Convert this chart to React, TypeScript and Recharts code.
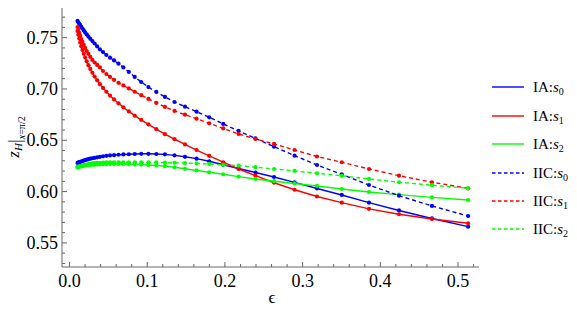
import React from "react";
import { LineChart, Line, XAxis, YAxis } from "recharts";

const EPS = [0.0103, 0.0113, 0.0125, 0.0137, 0.0151, 0.0166, 0.0183, 0.0201, 0.0221, 0.0243, 0.0267, 0.0294, 0.0323, 0.0356, 0.0391, 0.0431, 0.0474, 0.0521, 0.0573, 0.063, 0.0693, 0.0763, 0.0839, 0.0923, 0.1015, 0.1117, 0.1228, 0.1351, 0.1486, 0.1635, 0.1798, 0.1978, 0.2176, 0.2393, 0.2632, 0.2896, 0.3185, 0.3504, 0.3854, 0.424, 0.4664, 0.513];

const IA_S0 = [0.6279, 0.6283, 0.6287, 0.6289, 0.6293, 0.6298, 0.6302, 0.6307, 0.6311, 0.6316, 0.6321, 0.6325, 0.6329, 0.6334, 0.6339, 0.6344, 0.6348, 0.6352, 0.6355, 0.6359, 0.6362, 0.6364, 0.6366, 0.6368, 0.6368, 0.6366, 0.6363, 0.6353, 0.6339, 0.6321, 0.6295, 0.6261, 0.6225, 0.6186, 0.6142, 0.6089, 0.603, 0.5967, 0.5892, 0.5816, 0.5738, 0.5658];
const IA_S1 = [0.7565, 0.7528, 0.7491, 0.7454, 0.7417, 0.738, 0.7343, 0.7306, 0.7269, 0.7232, 0.7195, 0.7158, 0.7121, 0.7084, 0.7047, 0.701, 0.6973, 0.6936, 0.6898, 0.686, 0.6821, 0.6781, 0.674, 0.6698, 0.6655, 0.6608, 0.6559, 0.6511, 0.646, 0.6405, 0.6347, 0.6286, 0.622, 0.6155, 0.6086, 0.6018, 0.5952, 0.5892, 0.5832, 0.5779, 0.5733, 0.5691];
const IA_S2 = [0.624, 0.6242, 0.6244, 0.6247, 0.625, 0.6251, 0.6253, 0.6255, 0.6257, 0.6259, 0.6261, 0.6262, 0.6263, 0.6265, 0.6266, 0.6267, 0.6268, 0.6269, 0.6269, 0.6269, 0.6269, 0.6268, 0.6266, 0.6263, 0.6259, 0.6254, 0.6248, 0.6237, 0.6222, 0.6206, 0.6188, 0.6169, 0.6146, 0.6123, 0.6101, 0.6079, 0.6055, 0.6025, 0.5996, 0.597, 0.5944, 0.5918];
const IIC_S0 = [0.7663, 0.7649, 0.7635, 0.7622, 0.7605, 0.7589, 0.757, 0.7551, 0.7531, 0.7511, 0.7489, 0.7467, 0.7443, 0.7415, 0.7385, 0.7359, 0.7331, 0.7305, 0.7278, 0.7246, 0.721, 0.7166, 0.7117, 0.7068, 0.7018, 0.6971, 0.6922, 0.6873, 0.6827, 0.6779, 0.6724, 0.6659, 0.6591, 0.6518, 0.6438, 0.635, 0.6259, 0.6167, 0.6064, 0.596, 0.586, 0.5762];
const IIC_S1 = [0.7604, 0.7575, 0.7546, 0.7517, 0.7487, 0.7458, 0.7429, 0.74, 0.737, 0.7341, 0.7312, 0.7283, 0.7258, 0.7234, 0.721, 0.7175, 0.7146, 0.7117, 0.7088, 0.706, 0.7034, 0.7005, 0.6973, 0.6939, 0.6903, 0.6864, 0.6825, 0.6786, 0.6749, 0.671, 0.6666, 0.6615, 0.6561, 0.6513, 0.6464, 0.6405, 0.6342, 0.6286, 0.622, 0.6155, 0.6091, 0.6032];
const IIC_S2 = [0.6235, 0.6238, 0.6241, 0.6245, 0.6249, 0.6252, 0.6256, 0.626, 0.6264, 0.6268, 0.6271, 0.6274, 0.6277, 0.6279, 0.6281, 0.6283, 0.6284, 0.6285, 0.6286, 0.6286, 0.6286, 0.6286, 0.6286, 0.6286, 0.6285, 0.6284, 0.6283, 0.6281, 0.6278, 0.6274, 0.6269, 0.6261, 0.6252, 0.6238, 0.622, 0.6201, 0.6178, 0.6154, 0.6123, 0.6091, 0.6062, 0.6032];

const X_TICKS = [0, 0.02, 0.04, 0.06, 0.08, 0.1, 0.12, 0.14, 0.16, 0.18, 0.2, 0.22, 0.24, 0.26, 0.28, 0.3, 0.32, 0.34, 0.36, 0.38, 0.4, 0.42, 0.44, 0.46, 0.48, 0.5, 0.52];
const Y_TICKS = [0.53, 0.54, 0.55, 0.56, 0.57, 0.58, 0.59, 0.6, 0.61, 0.62, 0.63, 0.64, 0.65, 0.66, 0.67, 0.68, 0.69, 0.7, 0.71, 0.72, 0.73, 0.74, 0.75, 0.76, 0.77];

const SERIES = [
  { key: "ia0", label: "IA:", sub: "0", color: "#0000ff", dashed: false, values: IA_S0 },
  { key: "ia1", label: "IA:", sub: "1", color: "#ff0000", dashed: false, values: IA_S1 },
  { key: "ia2", label: "IA:", sub: "2", color: "#00ff00", dashed: false, values: IA_S2 },
  { key: "iic0", label: "IIC:", sub: "0", color: "#0000ff", dashed: true, values: IIC_S0 },
  { key: "iic1", label: "IIC:", sub: "1", color: "#ff0000", dashed: true, values: IIC_S1 },
  { key: "iic2", label: "IIC:", sub: "2", color: "#00ff00", dashed: true, values: IIC_S2 },
];

const data = EPS.map((e, i) => {
  const row: any = { eps: e };
  SERIES.forEach((s) => (row[s.key] = s.values[i]));
  return row;
});

const FONT = "'Liberation Serif', 'Times New Roman', serif";
const FRAME = "#666666";

const isMajorX = (v: number) => Math.abs(v * 10 - Math.round(v * 10)) < 1e-6;
const isMajorY = (v: number) => Math.abs(v * 20 - Math.round(v * 20)) < 1e-6;

const XTick = (props: any) => {
  const { x, y, payload, side } = props;
  const v = payload.value;
  const major = isMajorX(v);
  const len = major ? 5 : 3;
  const dir = side === "bottom" ? -1 : 1;
  return (
    <g>
      <line x1={x} y1={y} x2={x} y2={y + dir * len} stroke={FRAME} strokeWidth={1} />
      {side === "bottom" && major ? (
        <text x={x} y={y + 20} textAnchor="middle" fontFamily={FONT} fontSize={18} fill="#000">
          {v.toFixed(1)}
        </text>
      ) : null}
    </g>
  );
};

const YTick = (props: any) => {
  const { x, y, payload, side } = props;
  const v = payload.value;
  const major = isMajorY(v);
  const len = major ? 5 : 3;
  const dir = side === "left" ? 1 : -1;
  return (
    <g>
      <line x1={x} y1={y} x2={x + dir * len} y2={y} stroke={FRAME} strokeWidth={1} />
      {side === "left" && major ? (
        <text x={x - 4} y={y + 6} textAnchor="end" fontFamily={FONT} fontSize={18} fill="#000">
          {v.toFixed(2)}
        </text>
      ) : null}
    </g>
  );
};

const LEGEND_Y = [87, 116, 144, 173, 201, 229];

export default function App() {
  const xDomain = [-0.0097, 0.527];
  const yDomain = [0.5265, 0.7789];
  return (
    <div style={{ position: "absolute", left: 0, top: 0, width: 577, height: 322, background: "#fff" }}>
      <LineChart width={577} height={322} data={data} margin={{ top: 8, right: 98, bottom: 0, left: 0 }}>
        <XAxis
          xAxisId="b"
          type="number"
          dataKey="eps"
          domain={xDomain}
          allowDataOverflow
          ticks={X_TICKS}
          interval={0}
          tickSize={0}
          tickMargin={0}
          height={55}
          axisLine={{ stroke: FRAME }}
          tick={<XTick side="bottom" />}
        />
        <XAxis
          xAxisId="t"
          orientation="top"
          type="number"
          dataKey="eps"
          domain={xDomain}
          allowDataOverflow
          ticks={X_TICKS}
          interval={0}
          tickSize={0}
          tickMargin={0}
          height={0}
          axisLine={{ stroke: FRAME }}
          tick={<XTick side="top" />}
        />
        <YAxis
          yAxisId="l"
          type="number"
          domain={yDomain}
          allowDataOverflow
          ticks={Y_TICKS}
          interval={0}
          tickSize={0}
          tickMargin={0}
          width={62}
          axisLine={{ stroke: FRAME }}
          tick={<YTick side="left" />}
        />
        <YAxis
          yAxisId="r"
          orientation="right"
          type="number"
          domain={yDomain}
          allowDataOverflow
          ticks={Y_TICKS}
          interval={0}
          tickSize={0}
          tickMargin={0}
          width={0}
          axisLine={{ stroke: FRAME }}
          tick={<YTick side="right" />}
        />
        {SERIES.map((s) => (
          <Line
            key={s.key}
            xAxisId="b"
            yAxisId="l"
            type="linear"
            dataKey={s.key}
            stroke={s.color}
            strokeWidth={1.4}
            strokeDasharray={s.dashed ? "4 3" : undefined}
            dot={{ r: 2.1, fill: s.color, stroke: "none", strokeDasharray: "" }}
            activeDot={false}
            isAnimationActive={false}
          />
        ))}
      </LineChart>
      <svg width={577} height={322} style={{ position: "absolute", left: 0, top: 0, pointerEvents: "none" }}>
        <text transform="translate(19,137) rotate(-90)" textAnchor="middle" fontFamily={FONT} fill="#000">
          <tspan fontSize={17} fontStyle="italic">z</tspan>
          <tspan fontSize={11} fontStyle="italic" dy={3}>H</tspan>
          <tspan fontSize={19} dy={-1}>|</tspan>
          <tspan fontSize={10} dy={4}>
            <tspan fontStyle="italic">x</tspan>=π/2
          </tspan>
        </text>
        <text x={272} y={303} textAnchor="middle" fontFamily={FONT} fontSize={17} fill="#000">ϵ</text>
        {SERIES.map((s, i) => (
          <g key={s.key}>
            <line x1={492} x2={524} y1={LEGEND_Y[i]} y2={LEGEND_Y[i]} stroke={s.color} strokeWidth={1.4} strokeDasharray={s.dashed ? "3.5 2.5" : undefined} />
            <text x={533} y={LEGEND_Y[i] + 5} fontFamily={FONT} fontSize={15} fill="#000">
              {s.label}
              <tspan fontStyle="italic">s</tspan>
              <tspan fontSize={10} dy={3}>{s.sub}</tspan>
            </text>
          </g>
        ))}
      </svg>
    </div>
  );
}
